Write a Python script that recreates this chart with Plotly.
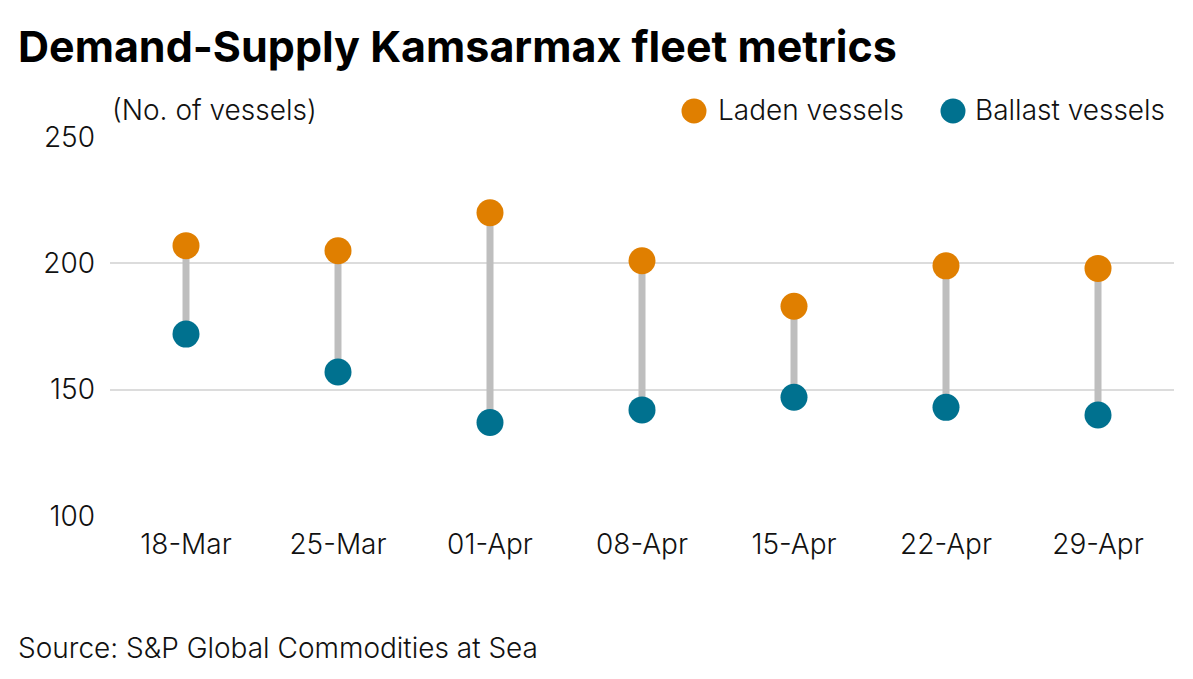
import plotly.graph_objects as go

weeks = ["18-Mar", "25-Mar", "01-Apr", "08-Apr", "15-Apr", "22-Apr", "29-Apr"]
laden = [207, 205, 220, 201, 183, 199, 198]
ballast = [172, 157, 137, 142, 147, 143, 140]
y_ticks = [100, 150, 200, 250]
series_names = ["Laden vessels", "Ballast vessels"]

ORANGE = "#E07F00"
TEAL = "#00718F"
FONT = "Inter"
FS = 28
W, H = 1193, 679
ML, MR, MT, MB = 110, 19, 137, 163
PW, PH = W - ML - MR, H - MT - MB

def px(xpix):
    return (xpix - ML) / PW

def py(ypix):
    return 1 - (ypix - MT) / PH

xi = list(range(len(weeks)))

cx, cy = [], []
for i, (l, b) in enumerate(zip(laden, ballast)):
    cx += [i, i, None]
    cy += [l, b, None]

fig = go.Figure()
fig.add_trace(go.Scatter(x=cx, y=cy, mode="lines", line=dict(color="#BEBEBE", width=7),
                         showlegend=False, hoverinfo="skip"))
fig.add_trace(go.Scatter(x=xi, y=laden, mode="markers", name=series_names[0],
                         marker=dict(color=ORANGE, size=27), showlegend=False))
fig.add_trace(go.Scatter(x=xi, y=ballast, mode="markers", name=series_names[1],
                         marker=dict(color=TEAL, size=27), showlegend=False))

fig.update_layout(
    width=W, height=H,
    margin=dict(l=ML, r=MR, t=MT, b=MB, autoexpand=False),
    paper_bgcolor="white", plot_bgcolor="white",
    font=dict(family=FONT, size=FS, color="#111", weight=300),
    title=dict(text="Demand-Supply Kamsarmax fleet metrics",
               x=18/W, xanchor="left", y=1-47/H, yanchor="middle",
               font=dict(family=FONT, size=43, color="black", weight=700)),
    showlegend=False,
)
fig.update_xaxes(tickmode="array", tickvals=xi, ticktext=weeks, range=[-0.5, 6.5],
                 showgrid=False, zeroline=False, showline=False, ticks="",
                 ticklabelstandoff=9, tickfont=dict(size=FS, weight=300))
fig.update_yaxes(range=[100, 250], tickvals=y_ticks, showgrid=True, gridcolor="#DCDCDC",
                 gridwidth=1.5, zeroline=False, showline=False, ticks="",
                 ticklabelstandoff=14, tickfont=dict(size=FS, weight=300))

fig.add_annotation(text="(No. of vessels)", xref="paper", yref="paper", x=0, y=py(110),
                   xanchor="left", yanchor="middle", showarrow=False,
                   font=dict(size=FS, weight=300))
fig.add_annotation(text="Source: S&P Global Commodities at Sea", xref="paper", yref="paper",
                   x=px(16), y=py(648), xanchor="left", yanchor="middle",
                   showarrow=False, font=dict(size=FS, weight=300))

# custom legend (large circle symbols)
for name, color, cxp, txp in [(series_names[0], ORANGE, 694, 716),
                              (series_names[1], TEAL, 953, 973)]:
    fig.add_shape(type="circle", xref="paper", yref="paper", xsizemode="pixel",
                  ysizemode="pixel", xanchor=px(cxp), yanchor=py(111),
                  x0=-12.5, x1=12.5, y0=-12.5, y1=12.5,
                  fillcolor=color, line=dict(width=0))
    fig.add_annotation(text=name, xref="paper", yref="paper", x=px(txp), y=py(110),
                       xanchor="left", yanchor="middle", showarrow=False,
                       font=dict(size=FS, weight=300))

fig.write_html("out.html", config={"displayModeBar": False},
               post_script="document.body.style.margin='0';")
